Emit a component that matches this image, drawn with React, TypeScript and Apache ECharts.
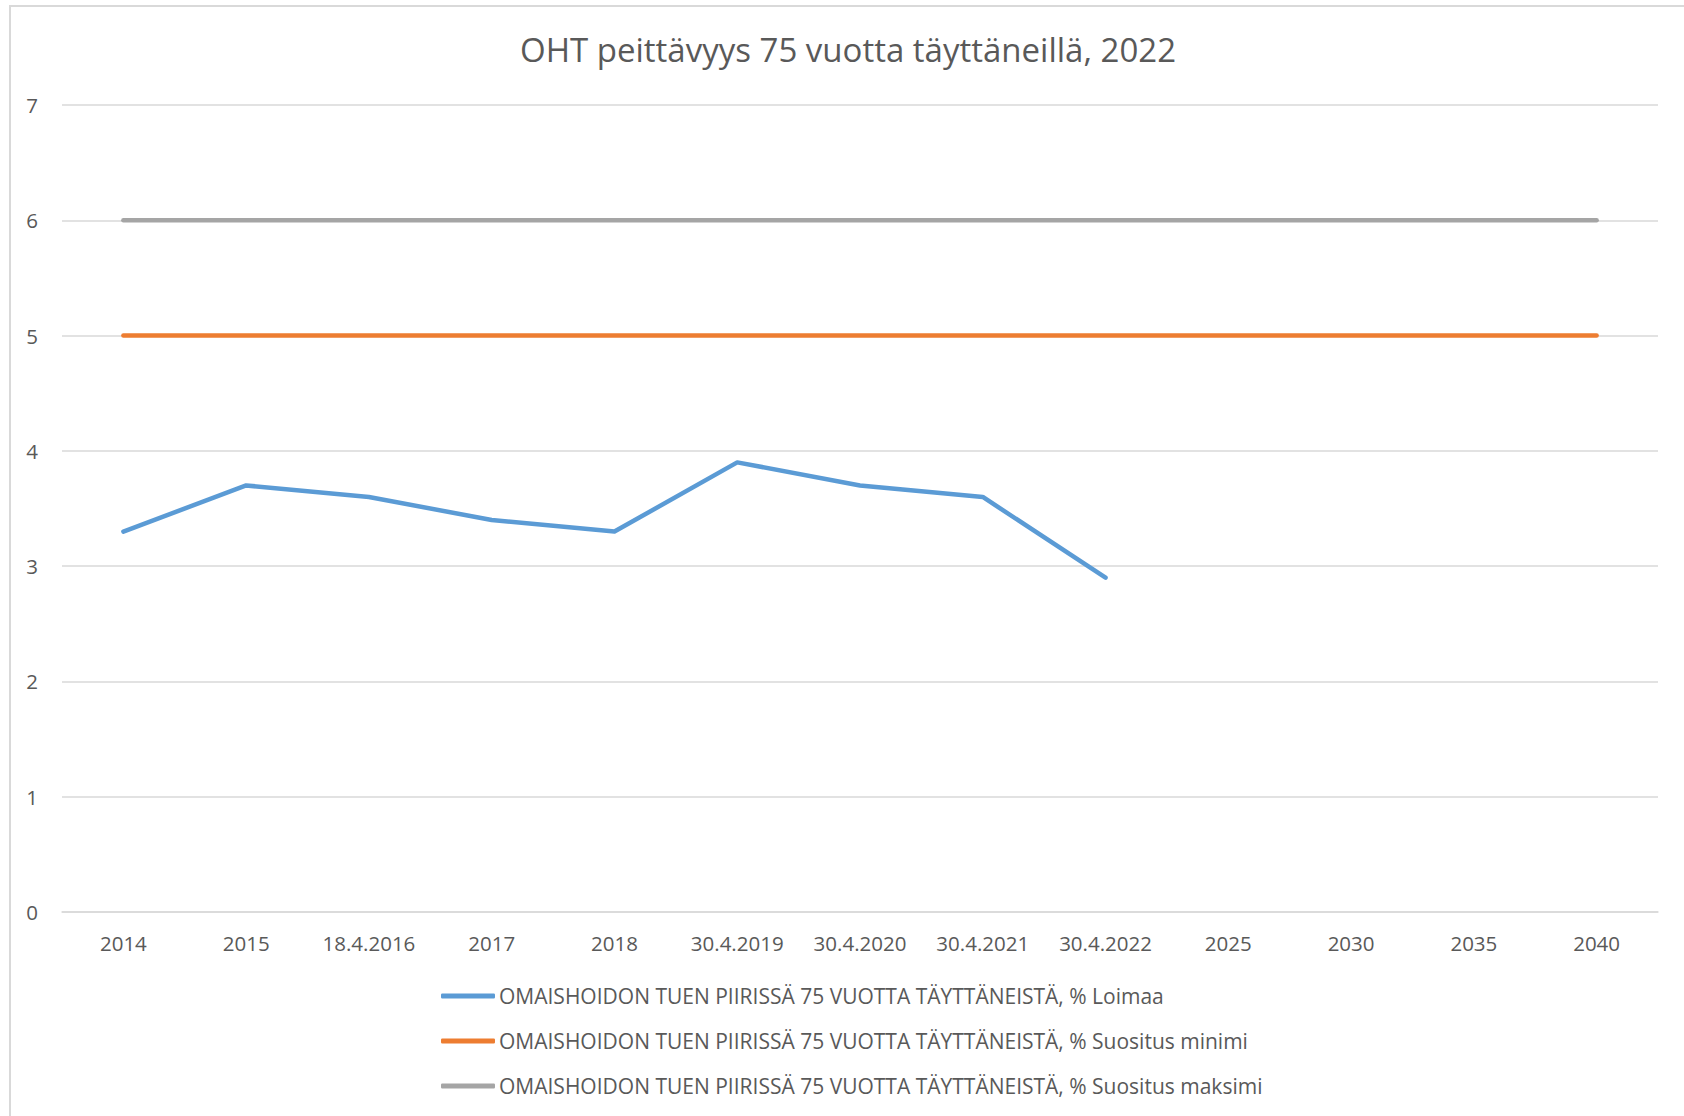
import React, { useEffect, useRef } from "react";
import * as echarts from "echarts";

const titleText = "OHT peittävyys 75 vuotta täyttäneillä, 2022";
const categories = [
  "2014", "2015", "18.4.2016", "2017", "2018", "30.4.2019", "30.4.2020",
  "30.4.2021", "30.4.2022", "2025", "2030", "2035", "2040",
];
const seriesNames = [
  "OMAISHOIDON TUEN PIIRISSÄ 75 VUOTTA TÄYTTÄNEISTÄ, % Loimaa",
  "OMAISHOIDON TUEN PIIRISSÄ 75 VUOTTA TÄYTTÄNEISTÄ, % Suositus minimi",
  "OMAISHOIDON TUEN PIIRISSÄ 75 VUOTTA TÄYTTÄNEISTÄ, % Suositus maksimi",
];
const loimaa = [3.3, 3.7, 3.6, 3.4, 3.3, 3.9, 3.7, 3.6, 2.9, null, null, null, null];
const suositusMinimi = [5, 5, 5, 5, 5, 5, 5, 5, 5, 5, 5, 5, 5];
const suositusMaksimi = [6, 6, 6, 6, 6, 6, 6, 6, 6, 6, 6, 6, 6];
const colors = ["#5B9BD5", "#ED7D31", "#A5A5A5"];

export default function App() {
  const ref = useRef<HTMLDivElement>(null);
  useEffect(() => {
    if (!ref.current) return;
    const chart = echarts.init(ref.current, undefined, { renderer: "svg" });
    const font = "'Open Sans', 'Noto Sans', sans-serif";
    const mk = (i: number, data: (number | null)[]) => ({
      name: seriesNames[i],
      type: "line",
      data,
      showSymbol: false,
      symbol: "none",
      lineStyle: { color: colors[i], width: 4.5, cap: "round", join: "round" },
      itemStyle: { color: colors[i] },
      z: 3 - i,
    });
    chart.setOption({
      animation: false,
      backgroundColor: "#ffffff",
      textStyle: { fontFamily: font },
      title: {
        text: titleText,
        left: 848,
        textAlign: "center",
        top: 33,
        padding: 0,
        textStyle: { fontFamily: font, fontSize: 33, fontWeight: "normal", color: "#595959" },
      },
      graphic: [
        {
          type: "rect",
          shape: { x: 10, y: 6, width: 1720, height: 1200 },
          style: { fill: "none", stroke: "#d9d9d9", lineWidth: 2 },
          silent: true,
        },
      ],
      grid: { left: 62, right: 26, top: 105, bottom: 1116 - 912 },
      xAxis: {
        type: "category",
        data: categories,
        boundaryGap: true,
        axisLine: { show: true, lineStyle: { color: "#d9d9d9", width: 1.5 } },
        axisTick: { show: false },
        axisLabel: { color: "#595959", fontSize: 20.5, margin: 20, fontFamily: font },
      },
      yAxis: {
        type: "value",
        min: 0,
        max: 7,
        interval: 1,
        axisLine: { show: false },
        axisTick: { show: false },
        axisLabel: { color: "#595959", fontSize: 20.5, margin: 24, fontFamily: font },
        splitLine: { lineStyle: { color: "#d9d9d9", width: 1.5 } },
      },
      legend: {
        orient: "vertical",
        left: 441,
        top: 984,
        padding: 0,
        itemWidth: 54,
        itemHeight: 5,
        itemGap: 21,
        icon: "roundRect",
        textStyle: { color: "#595959", fontSize: 21, lineHeight: 24, fontFamily: font, padding: [0, 0, 0, -1] },
        data: seriesNames,
      },
      series: [mk(0, loimaa), mk(1, suositusMinimi), mk(2, suositusMaksimi)],
    });
    return () => chart.dispose();
  }, []);
  return (
    <div
      ref={ref}
      style={{ position: "fixed", left: 0, top: 0, width: 1684, height: 1116, background: "#fff" }}
    />
  );
}
